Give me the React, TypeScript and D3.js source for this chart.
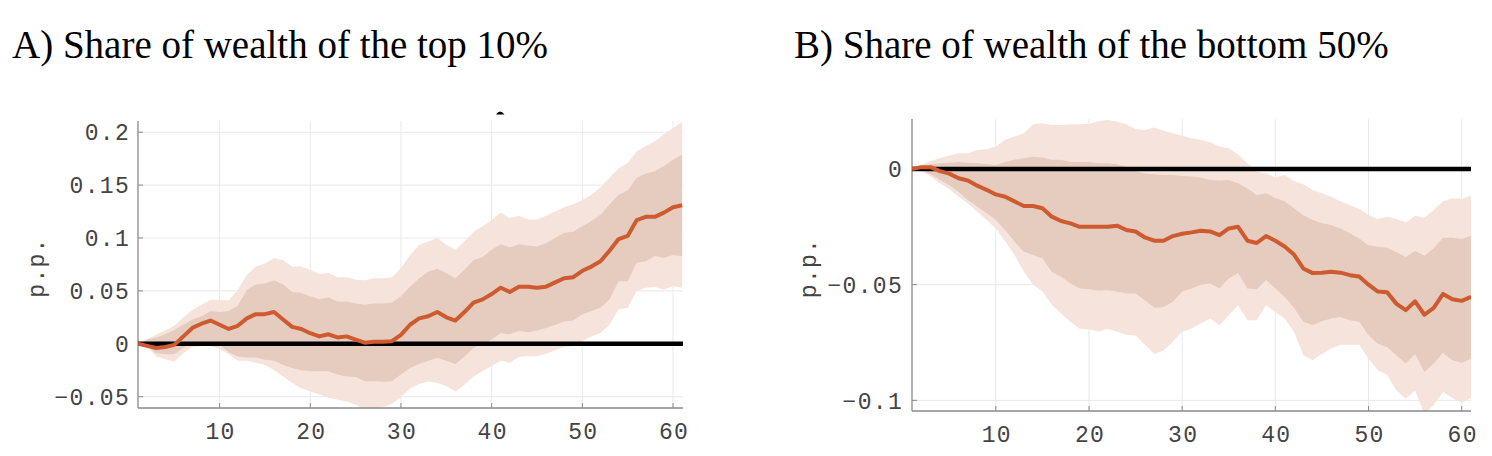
import React from "react";
import * as d3 from "d3";

// horizon (periods)
const horizon: number[] = Array.from({ length: 61 }, (_, i) => i + 1);

// Panel A: share of wealth of the top 10%
const topMean = [0, -0.002, -0.004, -0.003, -0.001, 0.007, 0.015, 0.019, 0.022, 0.018, 0.014, 0.017, 0.024, 0.028, 0.028, 0.030, 0.023, 0.016, 0.014, 0.010, 0.007, 0.009, 0.006, 0.007, 0.004, 0.001, 0.002, 0.002, 0.0025, 0.0085, 0.018, 0.024, 0.026, 0.030, 0.025, 0.022, 0.030, 0.039, 0.042, 0.047, 0.053, 0.049, 0.054, 0.054, 0.053, 0.054, 0.058, 0.062, 0.063, 0.069, 0.073, 0.078, 0.088, 0.099, 0.102, 0.117, 0.120, 0.120, 0.124, 0.129, 0.131];
const topInnerHi = [0, 0.004, 0.006, 0.009, 0.013, 0.018, 0.023, 0.026, 0.031, 0.030, 0.031, 0.036, 0.051, 0.056, 0.057, 0.060, 0.056, 0.049, 0.048, 0.045, 0.042, 0.044, 0.040, 0.040, 0.038, 0.037, 0.038, 0.038, 0.039, 0.045, 0.054, 0.062, 0.068, 0.071, 0.067, 0.062, 0.070, 0.079, 0.082, 0.089, 0.094, 0.091, 0.094, 0.093, 0.092, 0.095, 0.100, 0.105, 0.106, 0.111, 0.116, 0.122, 0.132, 0.141, 0.145, 0.157, 0.161, 0.163, 0.168, 0.174, 0.179];
const topInnerLo = [0, -0.002, -0.009, -0.010, -0.010, -0.004, 0.001, 0.002, 0.002, -0.001, -0.008, -0.012, -0.013, -0.013, -0.015, -0.016, -0.020, -0.023, -0.025, -0.026, -0.026, -0.026, -0.029, -0.031, -0.0315, -0.0355, -0.0355, -0.036, -0.0355, -0.029, -0.023, -0.019, -0.016, -0.0135, -0.016, -0.019, -0.012, -0.004, 0.000, 0.004, 0.010, 0.009, 0.012, 0.011, 0.0126, 0.015, 0.018, 0.021, 0.022, 0.028, 0.031, 0.034, 0.042, 0.059, 0.059, 0.0765, 0.078, 0.083, 0.081, 0.084, 0.083];
const topOuterHi = [0, 0.0044, 0.0085, 0.0126, 0.017, 0.025, 0.032, 0.037, 0.0416, 0.0416, 0.041, 0.051, 0.065, 0.073, 0.076, 0.081, 0.079, 0.073, 0.073, 0.070, 0.066, 0.067, 0.063, 0.063, 0.0605, 0.060, 0.062, 0.062, 0.063, 0.0715, 0.084, 0.0936, 0.0967, 0.100, 0.0936, 0.0888, 0.0967, 0.106, 0.111, 0.117, 0.124, 0.119, 0.121, 0.1175, 0.1175, 0.121, 0.125, 0.129, 0.132, 0.136, 0.141, 0.148, 0.157, 0.166, 0.171, 0.182, 0.187, 0.1915, 0.198, 0.204, 0.210];
const topOuterLo = [0, -0.0025, -0.012, -0.0145, -0.017, -0.009, -0.003, -0.002, -0.002, -0.005, -0.010, -0.016, -0.016, -0.018, -0.020, -0.025, -0.031, -0.037, -0.042, -0.045, -0.048, -0.051, -0.053, -0.0545, -0.0577, -0.062, -0.062, -0.060, -0.057, -0.050, -0.0425, -0.038, -0.0356, -0.037, -0.040, -0.045, -0.039, -0.031, -0.026, -0.021, -0.016, -0.018, -0.0126, -0.0117, -0.0117, -0.0095, -0.006, -0.003, -0.002, 0.0025, 0.007, 0.010, 0.018, 0.0325, 0.034, 0.050, 0.053, 0.0536, 0.0514, 0.0545, 0.053];

// Panel B: share of wealth of the bottom 50%
const botMean = [0, 0.0008, 0.0008, -0.0009, -0.002, -0.004, -0.005, -0.0072, -0.009, -0.011, -0.012, -0.014, -0.016, -0.016, -0.017, -0.0206, -0.0225, -0.0235, -0.025, -0.025, -0.025, -0.025, -0.0245, -0.0264, -0.027, -0.0296, -0.031, -0.031, -0.029, -0.028, -0.0274, -0.0267, -0.027, -0.0286, -0.0257, -0.025, -0.031, -0.032, -0.029, -0.031, -0.0335, -0.037, -0.043, -0.045, -0.0448, -0.0444, -0.0448, -0.0459, -0.0465, -0.050, -0.053, -0.0533, -0.0583, -0.061, -0.0572, -0.063, -0.060, -0.054, -0.0563, -0.057, -0.0553];
const botInnerHi = [0, 0.0014, 0.002, 0.0025, 0.0027, 0.003, 0.0027, 0.0025, 0.002, 0.0017, 0.003, 0.004, 0.0046, 0.0053, 0.005, 0.004, 0.004, 0.003, 0.003, 0.003, 0.0025, 0.0025, 0.002, 0.001, -0.0009, -0.002, -0.0023, -0.0026, -0.0026, -0.003, -0.0033, -0.0037, -0.0048, -0.005, -0.0048, -0.0062, -0.0084, -0.0113, -0.0105, -0.0125, -0.0139, -0.017, -0.020, -0.022, -0.0235, -0.0242, -0.0257, -0.0278, -0.030, -0.033, -0.0336, -0.034, -0.036, -0.038, -0.0355, -0.0375, -0.0343, -0.0297, -0.0297, -0.0303, -0.0289];
const botInnerLo = [0, -0.0004, -0.0023, -0.0048, -0.007, -0.010, -0.0134, -0.0163, -0.019, -0.022, -0.0264, -0.0315, -0.0358, -0.0372, -0.0387, -0.0444, -0.0466, -0.0495, -0.0517, -0.052, -0.0526, -0.0524, -0.053, -0.0538, -0.0538, -0.0567, -0.060, -0.0596, -0.0574, -0.053, -0.0517, -0.050, -0.0495, -0.0517, -0.0473, -0.045, -0.0517, -0.052, -0.048, -0.0517, -0.0553, -0.060, -0.066, -0.0675, -0.0658, -0.0646, -0.064, -0.0654, -0.066, -0.0719, -0.0755, -0.077, -0.0805, -0.0841, -0.080, -0.0877, -0.0841, -0.0794, -0.0827, -0.0837, -0.082];
const botOuterHi = [0, 0.0017, 0.0035, 0.0046, 0.0058, 0.0068, 0.0068, 0.0082, 0.0085, 0.0097, 0.0126, 0.014, 0.0154, 0.0193, 0.0198, 0.019, 0.019, 0.0193, 0.0193, 0.0195, 0.0206, 0.0212, 0.0205, 0.0193, 0.0173, 0.0169, 0.0179, 0.0165, 0.0154, 0.0144, 0.0133, 0.0126, 0.0115, 0.0097, 0.009, 0.0063, 0.0025, -0.0012, -0.0019, -0.0037, -0.0026, -0.0052, -0.0066, -0.0091, -0.0105, -0.012, -0.0139, -0.0156, -0.0173, -0.0199, -0.0216, -0.0206, -0.0216, -0.0231, -0.0202, -0.0211, -0.0177, -0.0139, -0.0127, -0.013, -0.0115];
const botOuterLo = [0, -0.0009, -0.0033, -0.0062, -0.0087, -0.012, -0.0149, -0.0185, -0.022, -0.0257, -0.0312, -0.0372, -0.0444, -0.050, -0.053, -0.0587, -0.0625, -0.066, -0.069, -0.0693, -0.0704, -0.069, -0.0704, -0.0716, -0.072, -0.076, -0.080, -0.0784, -0.0747, -0.0704, -0.069, -0.0668, -0.0646, -0.0675, -0.0632, -0.0589, -0.0654, -0.0654, -0.0589, -0.0618, -0.0646, -0.0704, -0.0805, -0.0827, -0.080, -0.0776, -0.076, -0.076, -0.076, -0.082, -0.087, -0.089, -0.0957, -0.0993, -0.0957, -0.106, -0.102, -0.0964, -0.099, -0.101, -0.099];

const xTicks = [10, 20, 30, 40, 50, 60];
const topYTicks = [-0.05, 0, 0.05, 0.1, 0.15, 0.2];
const topYLabels = ["\u22120.05", "0", "0.05", "0.1", "0.15", "0.2"];
const botYTicks = [-0.1, -0.05, 0];
const botYLabels = ["\u22120.1", "\u22120.05", "0"];

const titleA = "A) Share of wealth of the top 10%";
const titleB = "B) Share of wealth of the bottom 50%";
const yLabel = "p.p.";

const C_OUTER = "#f6e4dc";
const C_INNER = "#e6cbbf";
const C_LINE = "#cd5b2f";
const C_GRID = "#e9e9e9";
const C_AXIS = "#8a8a8a";
const C_TEXT = "#444";
const MONO = "'Liberation Mono', monospace";
const FS = 23;
const LS = 1.3;

type PanelProps = {
  id: string;
  left: number; right: number; top: number; bottom: number;
  xDomain: [number, number];
  yDomain: [number, number];
  mean: number[]; innerHi: number[]; innerLo: number[]; outerHi: number[]; outerLo: number[];
  yTicks: number[]; yLabels: string[];
  labelX: number; ppX: number;
};

function Panel(p: PanelProps) {
  const x = d3.scaleLinear().domain(p.xDomain).range([p.left, p.right]);
  const y = d3.scaleLinear().domain(p.yDomain).range([p.bottom, p.top]);
  const band = (hi: number[], lo: number[]) =>
    d3.area<number>().x((t) => x(t)).y0((_, i) => y(lo[i])).y1((_, i) => y(hi[i]))(horizon) || "";
  const line = d3.line<number>().x((t) => x(t)).y((_, i) => y(p.mean[i]))(horizon) || "";
  const clipId = `clip-${p.id}`;
  return (
    <g>
      <defs>
        <clipPath id={clipId}>
          <rect x={p.left} y={p.top} width={p.right - p.left} height={p.bottom - p.top} />
        </clipPath>
      </defs>
      {xTicks.map((t) => (
        <line key={`gx${t}`} x1={x(t)} x2={x(t)} y1={p.top} y2={p.bottom} stroke={C_GRID} strokeWidth={1} />
      ))}
      {p.yTicks.map((t) => (
        <line key={`gy${t}`} x1={p.left} x2={p.right} y1={y(t)} y2={y(t)} stroke={C_GRID} strokeWidth={1} />
      ))}
      <g clipPath={`url(#${clipId})`}>
        <path d={band(p.outerHi, p.outerLo)} fill={C_OUTER} />
        <path d={band(p.innerHi, p.innerLo)} fill={C_INNER} />
      </g>
      <line x1={p.left} x2={p.left} y1={p.top} y2={p.bottom} stroke={C_AXIS} strokeWidth={1.3} />
      <line x1={p.left} x2={p.right} y1={p.bottom} y2={p.bottom} stroke={C_AXIS} strokeWidth={1.3} />
      {xTicks.map((t) => (
        <line key={`tx${t}`} x1={x(t)} x2={x(t)} y1={p.bottom} y2={p.bottom - 5} stroke={C_AXIS} strokeWidth={1} />
      ))}
      {p.yTicks.map((t) => (
        <line key={`ty${t}`} x1={p.left} x2={p.left + 5} y1={y(t)} y2={y(t)} stroke={C_AXIS} strokeWidth={1} />
      ))}
      <line x1={x(1)} x2={p.right} y1={y(0)} y2={y(0)} stroke="#000" strokeWidth={4.5} />
      <path d={line} fill="none" stroke={C_LINE} strokeWidth={4} strokeLinejoin="round" clipPath={`url(#${clipId})`} />
      {xTicks.map((t) => (
        <text key={`lx${t}`} x={x(t) + 1} y={p.bottom + 31} textAnchor="middle" fontFamily={MONO} fontSize={FS} letterSpacing={LS} fill={C_TEXT}>
          {String(t)}
        </text>
      ))}
      {p.yTicks.map((t, i) => (
        <text key={`ly${t}`} x={p.labelX} y={y(t)} dy="0.36em" textAnchor="end" fontFamily={MONO} fontSize={FS} letterSpacing={LS} fill={C_TEXT}>
          {p.yLabels[i]}
        </text>
      ))}
      <text transform={`translate(${p.ppX},${(p.top + p.bottom) / 2 + 3}) rotate(-90)`} textAnchor="middle" dy="0.36em" fontFamily={MONO} fontSize={FS} letterSpacing={LS} fill={C_TEXT}>
        {yLabel}
      </text>
    </g>
  );
}

export default function App() {
  return (
    <svg width={1492} height={456} style={{ position: "absolute", left: 0, top: 0, background: "#fff" }}>
      <rect x={0} y={0} width={1492} height={456} fill="#fff" />
      <text x={12} y={58} fontFamily="'Liberation Serif', 'Times New Roman', serif" fontSize={39} fill="#000">{titleA}</text>
      <text x={794} y={58} fontFamily="'Liberation Serif', 'Times New Roman', serif" fontSize={39} fill="#000">{titleB}</text>
      <Panel id="a" left={138} right={683} top={121} bottom={408} xDomain={[1, 61.1]} yDomain={[-0.0607, 0.2106]}
        mean={topMean} innerHi={topInnerHi} innerLo={topInnerLo} outerHi={topOuterHi} outerLo={topOuterLo}
        yTicks={topYTicks} yLabels={topYLabels} labelX={130} ppX={36} />
      <Panel id="b" left={912} right={1471} top={119} bottom={411} xDomain={[1, 61]} yDomain={[-0.1046, 0.0216]}
        mean={botMean} innerHi={botInnerHi} innerLo={botInnerLo} outerHi={botOuterHi} outerLo={botOuterLo}
        yTicks={botYTicks} yLabels={botYLabels} labelX={903} ppX={808} />
      <path d="M496,114.5 Q500,108.5 504.5,114.5 Z" fill="#000" />
    </svg>
  );
}
